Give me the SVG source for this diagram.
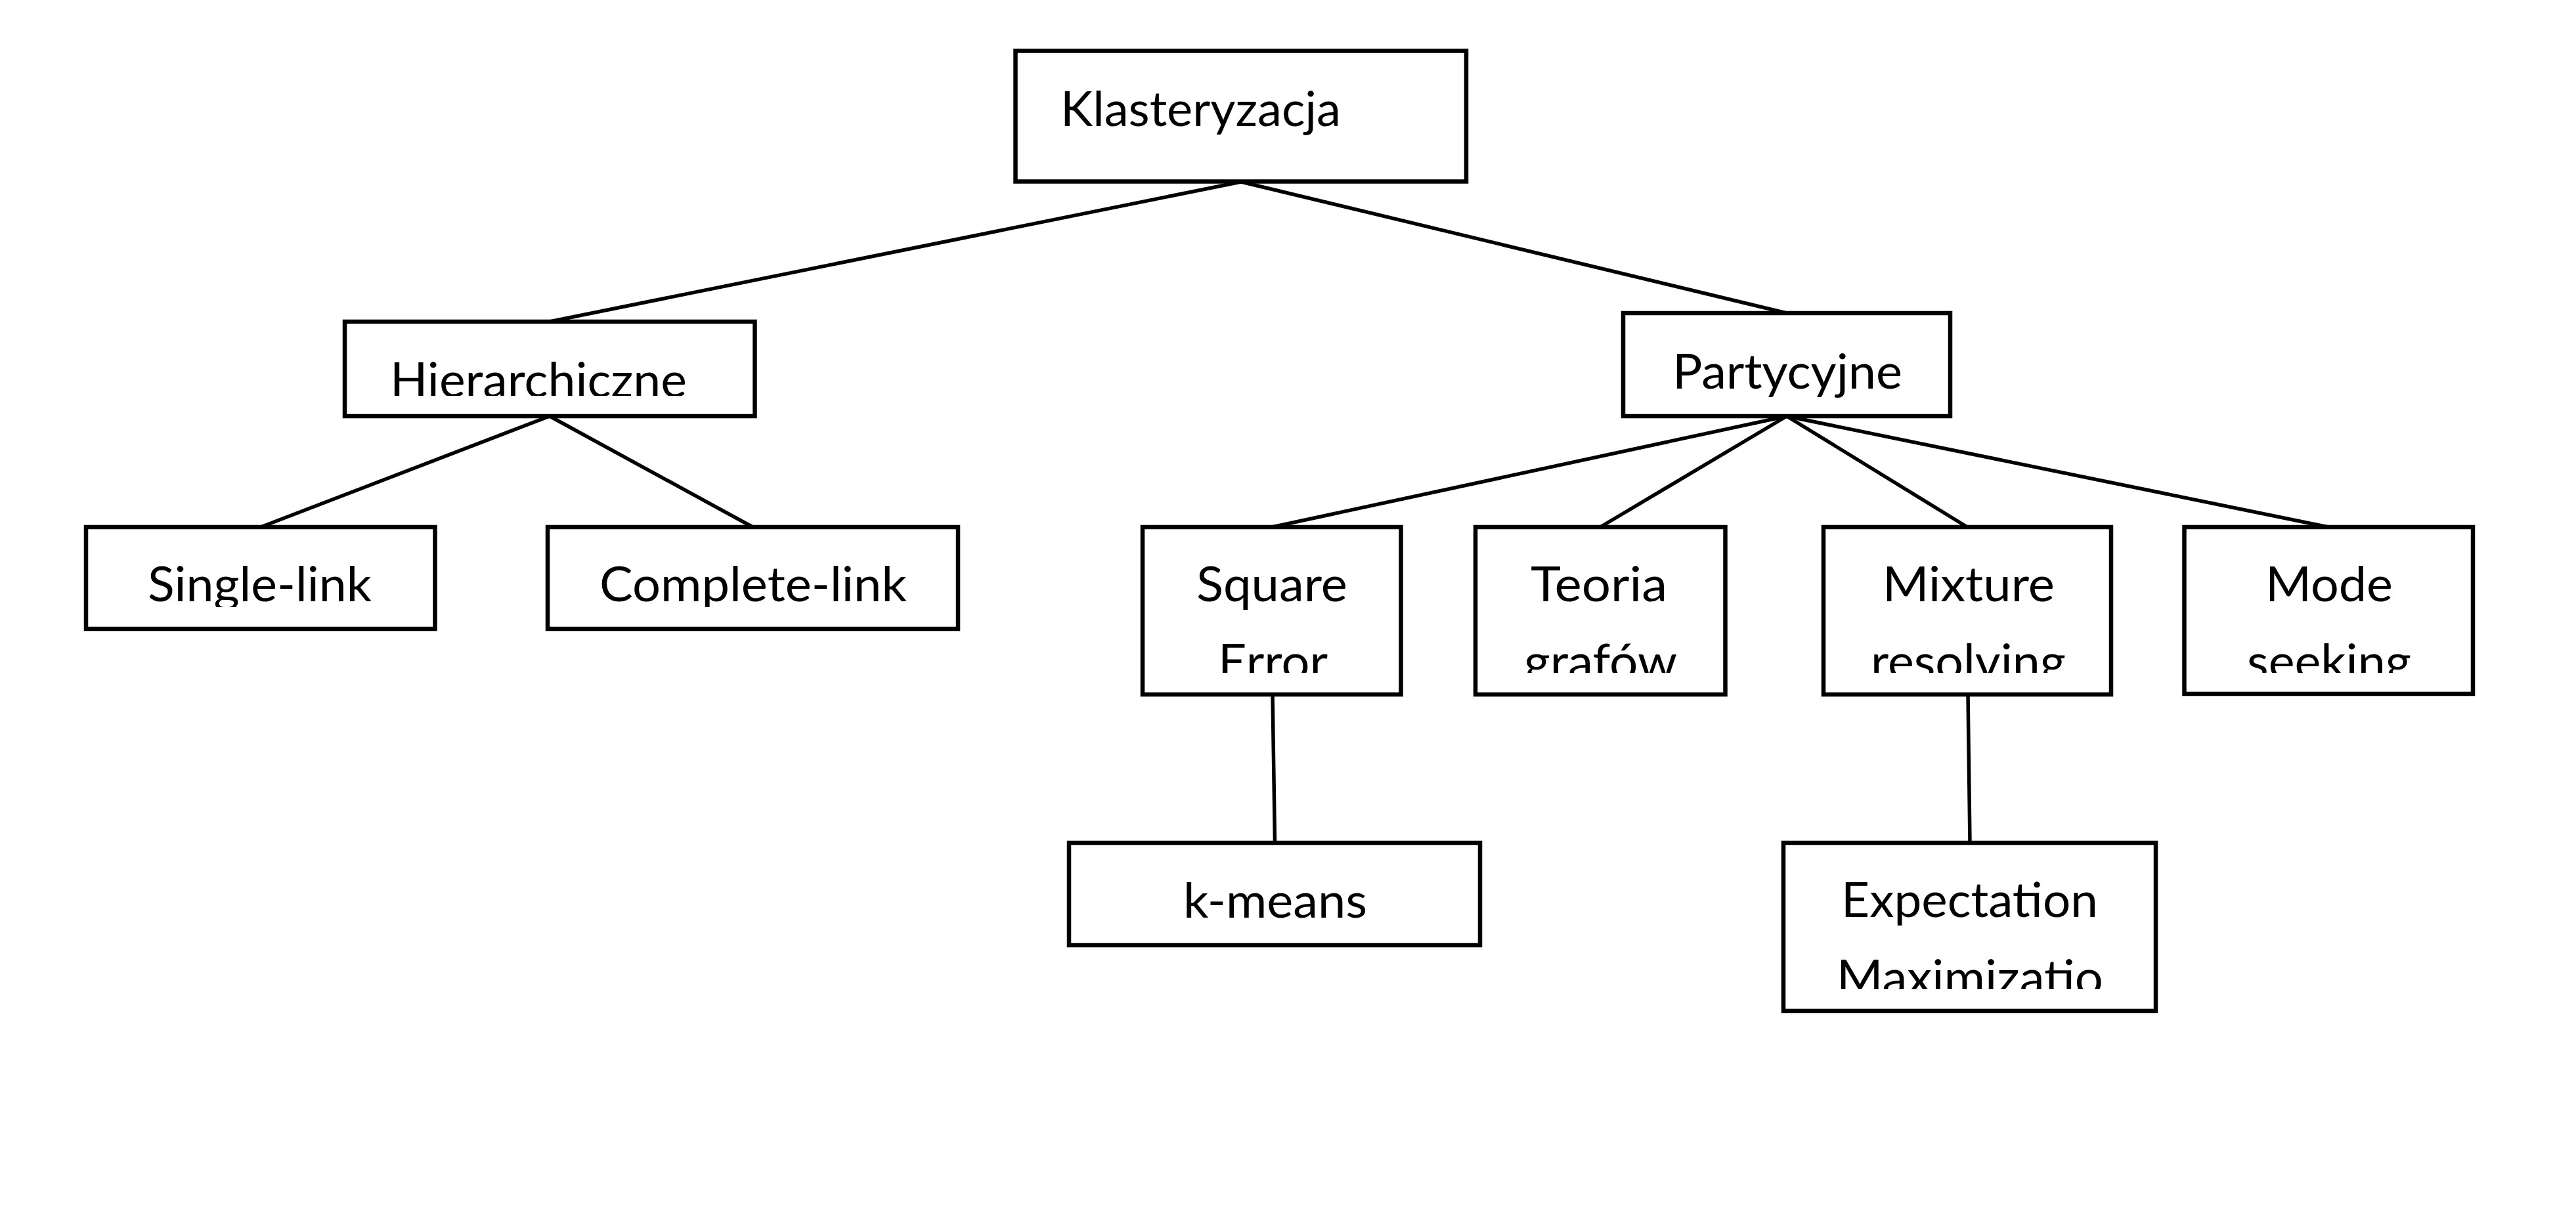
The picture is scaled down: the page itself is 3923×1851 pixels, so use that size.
<svg xmlns="http://www.w3.org/2000/svg" width="3923" height="1851" viewBox="0 0 3923 1851">
<style>
.box{fill:#fff;stroke:#000;stroke-width:6.5}
.con{stroke:#000;stroke-width:5.5;fill:none;stroke-linecap:round}
.lbl{font-family:Lato,"Liberation Sans",sans-serif;font-size:73px;fill:#000}
</style>
<defs>
<clipPath id="c603" clipPathUnits="userSpaceOnUse"><rect x="0" y="0" width="3923" height="603"/></clipPath>
<clipPath id="c609" clipPathUnits="userSpaceOnUse"><rect x="0" y="0" width="3923" height="609"/></clipPath>
<clipPath id="c925" clipPathUnits="userSpaceOnUse"><rect x="0" y="0" width="3923" height="925"/></clipPath>
<clipPath id="c1025" clipPathUnits="userSpaceOnUse"><rect x="0" y="0" width="3923" height="1025"/></clipPath>
<clipPath id="c1507" clipPathUnits="userSpaceOnUse"><rect x="0" y="0" width="3923" height="1507"/></clipPath>
</defs>
<rect x="0" y="0" width="3923" height="1851" fill="#fff"/>
<g id="connectors">
<line class="con" x1="1890" y1="277" x2="837" y2="490"/>
<line class="con" x1="1890" y1="277" x2="2721" y2="477"/>
<line class="con" x1="837" y1="634" x2="397" y2="803"/>
<line class="con" x1="837" y1="634" x2="1146.5" y2="803"/>
<line class="con" x1="2721" y1="634" x2="1937" y2="803"/>
<line class="con" x1="2721" y1="634" x2="2437" y2="803"/>
<line class="con" x1="2721" y1="634" x2="2996" y2="803"/>
<line class="con" x1="2721" y1="634" x2="3546" y2="803"/>
<line class="con" x1="1938" y1="1058" x2="1941.5" y2="1284"/>
<line class="con" x1="2997" y1="1058" x2="3000" y2="1284"/>
</g>
<g id="n-klasteryzacja">
<rect class="box" x="1546.5" y="77.5" width="686.5" height="199"/>
<text class="lbl" x="1615" y="192" textLength="427" lengthAdjust="spacingAndGlyphs">Klasteryzacja</text>
</g>
<g id="n-hierarchiczne">
<rect class="box" x="525" y="490" width="624.5" height="144"/>
<text class="lbl" x="594" y="605" textLength="452" lengthAdjust="spacingAndGlyphs" clip-path="url(#c603)">Hierarchiczne</text>
</g>
<g id="n-partycyjne">
<rect class="box" x="2472" y="477" width="498" height="157"/>
<text class="lbl" x="2547" y="592" textLength="350" lengthAdjust="spacingAndGlyphs" clip-path="url(#c609)">Partycyjne</text>
</g>
<g id="n-single-link">
<rect class="box" x="131" y="803" width="531.5" height="155"/>
<text class="lbl" x="225" y="916" textLength="341" lengthAdjust="spacingAndGlyphs" clip-path="url(#c925)">Single-link</text>
</g>
<g id="n-complete-link">
<rect class="box" x="834" y="803" width="625" height="155"/>
<text class="lbl" x="913" y="916" textLength="468" lengthAdjust="spacingAndGlyphs" clip-path="url(#c925)">Complete-link</text>
</g>
<g id="n-square-error">
<rect class="box" x="1740" y="803" width="393.5" height="255"/>
<g clip-path="url(#c1025)">
<text class="lbl" x="1822" y="916" textLength="230" lengthAdjust="spacingAndGlyphs">Square</text>
<text class="lbl" x="1855" y="1034" textLength="167" lengthAdjust="spacingAndGlyphs">Error</text>
</g>
</g>
<g id="n-teoria-grafow">
<rect class="box" x="2247" y="803" width="380.5" height="255"/>
<g clip-path="url(#c1025)">
<text class="lbl" x="2331" y="916" textLength="208" lengthAdjust="spacingAndGlyphs">Teoria</text>
<text class="lbl" x="2321" y="1034" textLength="233" lengthAdjust="spacingAndGlyphs">grafów</text>
</g>
</g>
<g id="n-mixture-resolving">
<rect class="box" x="2777" y="803" width="438" height="255"/>
<g clip-path="url(#c1025)">
<text class="lbl" x="2867" y="916" textLength="262" lengthAdjust="spacingAndGlyphs">Mixture</text>
<text class="lbl" x="2849" y="1034" textLength="297" lengthAdjust="spacingAndGlyphs">resolving</text>
</g>
</g>
<g id="n-mode-seeking">
<rect class="box" x="3326.5" y="803" width="439.5" height="254"/>
<g clip-path="url(#c1025)">
<text class="lbl" x="3450" y="916" textLength="194" lengthAdjust="spacingAndGlyphs">Mode</text>
<text class="lbl" x="3422" y="1034" textLength="250" lengthAdjust="spacingAndGlyphs">seeking</text>
</g>
</g>
<g id="n-k-means">
<rect class="box" x="1628" y="1284" width="626" height="156"/>
<text class="lbl" x="1802" y="1398" textLength="280" lengthAdjust="spacingAndGlyphs">k-means</text>
</g>
<g id="n-expectation-maximization">
<rect class="box" x="2716" y="1284" width="567" height="256"/>
<g clip-path="url(#c1507)">
<text class="lbl" x="2804" y="1397" textLength="391" lengthAdjust="spacingAndGlyphs">Expectation</text>
<text class="lbl" x="2797" y="1515" textLength="406" lengthAdjust="spacingAndGlyphs">Maximizatio</text>
</g>
</g>
</svg>
